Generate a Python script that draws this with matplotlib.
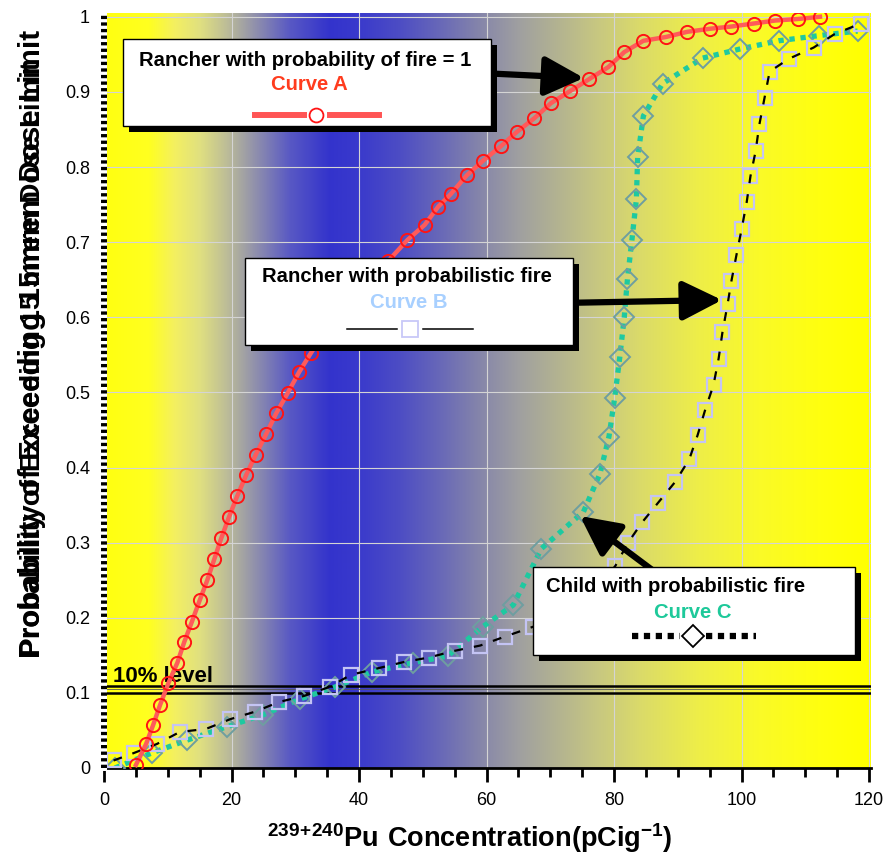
import numpy as np
import matplotlib.pyplot as plt
from matplotlib.patches import Rectangle
from matplotlib.lines import Line2D
from matplotlib.colors import to_rgb

plt.rcParams['font.family'] = ['Liberation Sans', 'DejaVu Sans']
plt.rcParams['mathtext.fontset'] = 'custom'
plt.rcParams['mathtext.rm'] = 'Liberation Sans'
plt.rcParams['mathtext.bf'] = 'Liberation Sans:bold'

# Curve A - rancher, probability of fire = 1
a_x = [5.0, 6.6, 7.7, 8.8, 10.1, 11.5, 12.6, 13.8, 15.0, 16.2, 17.3, 18.4, 19.6,
       20.9, 22.3, 23.8, 25.4, 27.0, 28.8, 30.6, 32.5, 34.6, 36.9, 39.4, 42.0,
       44.6, 47.6, 50.3, 52.4, 54.4, 56.9, 59.4, 62.3, 64.8, 67.5, 70.1, 73.1,
       76.1, 79.1, 81.6, 84.6, 88.1, 91.5, 95.0, 98.4, 101.9, 105.3, 108.8, 112.3]
a_y = [0.004, 0.032, 0.057, 0.084, 0.113, 0.14, 0.168, 0.195, 0.223, 0.25, 0.278,
       0.306, 0.334, 0.362, 0.39, 0.417, 0.444, 0.472, 0.499, 0.527, 0.553, 0.58,
       0.605, 0.63, 0.653, 0.675, 0.703, 0.723, 0.747, 0.764, 0.789, 0.808, 0.828,
       0.847, 0.865, 0.885, 0.901, 0.917, 0.933, 0.953, 0.968, 0.973, 0.98, 0.984,
       0.987, 0.991, 0.995, 0.997, 1.0]

# Curve B - rancher, probabilistic fire
b_x = [1.5, 4.7, 8.3, 11.9, 16.0, 19.8, 23.7, 27.5, 31.4, 35.4, 38.7, 43.1, 47.0,
       50.9, 55.0, 59.0, 62.9, 67.3, 71.7, 74.5, 77.4, 80.2, 82.2, 84.4, 86.9,
       89.6, 91.8, 93.1, 94.3, 95.6, 96.4, 97.0, 97.8, 98.4, 99.2, 100.0, 100.8,
       101.4, 102.2, 102.8, 103.6, 104.4, 107.4, 111.3, 114.6, 118.7]
b_y = [0.01, 0.02, 0.032, 0.048, 0.052, 0.065, 0.075, 0.088, 0.096, 0.108, 0.124,
       0.133, 0.141, 0.147, 0.156, 0.163, 0.175, 0.188, 0.204, 0.219, 0.24, 0.269,
       0.3, 0.327, 0.353, 0.381, 0.411, 0.443, 0.477, 0.51, 0.545, 0.58, 0.617,
       0.648, 0.683, 0.717, 0.753, 0.788, 0.821, 0.857, 0.892, 0.927, 0.944,
       0.959, 0.977, 0.991]

# Curve C - child, probabilistic fire
c_x = [1.7, 7.5, 13.0, 19.3, 25.0, 30.8, 36.3, 42.1, 48.4, 53.9, 59.4, 64.2, 68.6,
       75.2, 77.8, 79.2, 80.1, 80.9, 81.6, 82.1, 82.8, 83.5, 83.7, 84.6, 87.6,
       93.9, 99.7, 105.8, 112.2, 118.2]
c_y = [0.0, 0.02, 0.037, 0.055, 0.071, 0.092, 0.108, 0.128, 0.14, 0.149, 0.188,
       0.217, 0.292, 0.341, 0.392, 0.441, 0.493, 0.547, 0.6, 0.651, 0.703, 0.757,
       0.813, 0.868, 0.911, 0.945, 0.957, 0.968, 0.975, 0.981]

y_ticks = [0, 0.1, 0.2, 0.3, 0.4, 0.5, 0.6, 0.7, 0.8, 0.9, 1.0]
y_labels = ['0', '0.1', '0.2', '0.3', '0.4', '0.5', '0.6', '0.7', '0.8', '0.9', '1']
x_ticks = [0, 20, 40, 60, 80, 100, 120]

# background colour band (yellow -> blue -> yellow)
grad_x = [0, 7, 11, 15, 19.3, 24.5, 29.2, 35.4, 40, 46.4, 52.7, 58.9, 65.2, 71.5,
          77.7, 84, 93.4, 102.8, 112, 120.3]
grad_c = ['#ffff10', '#ffff20', '#f4f060', '#e0e080', '#bcbc98', '#8888b0', '#5858c4',
          '#3333cc', '#3a3acc', '#4d4dc4', '#6868b8', '#8585aa', '#a0a0a0', '#b4b490',
          '#c8c880', '#dada6a', '#eeee48', '#fafa28', '#ffff10', '#ffff00']

W, H = 891, 858
fig = plt.figure(figsize=(W / 100, H / 100), dpi=100)
ax = fig.add_axes([104 / W, (H - 768) / H, 767 / W, 755 / H])


def fx(px):
    return px / W


def fy(py):
    return 1 - py / H


xs = np.linspace(0, 120.3, 800)
rgb = np.array([to_rgb(c) for c in grad_c])
img = np.stack([np.interp(xs, grad_x, rgb[:, k]) for k in range(3)], axis=-1)[None, :, :]
ax.imshow(img, extent=[0, 120.3, 0, 1.005], aspect='auto', zorder=0, interpolation='bilinear')
ax.set_xlim(0, 120.3)
ax.set_ylim(0, 1.005)

ax.set_xticks(x_ticks)
ax.set_xticks(np.arange(0, 121, 5), minor=True)
ax.set_yticks(y_ticks)
ax.set_yticklabels(y_labels)
ax.grid(True, color='#d4d4d4', lw=0.8)
ax.tick_params(axis='x', which='major', length=10, width=2, direction='out', labelsize=13, pad=7)
ax.tick_params(axis='x', which='minor', length=6.5, width=2, direction='out')
ax.tick_params(axis='y', length=0, labelsize=13, pad=10)
for s in ['top', 'right', 'left']:
    ax.spines[s].set_visible(False)
ax.spines['bottom'].set_linewidth(2)

# checkered left axis
ax.plot([0, 0], [0, 1], transform=ax.transAxes, color='white', lw=4.3, clip_on=False, zorder=8)
ax.plot([0, 0], [0, 1], transform=ax.transAxes, color='black', lw=4.3, ls=(0, (0.55, 0.55)),
        clip_on=False, zorder=9, solid_capstyle='butt')

# 10% level
ax.axhline(0.0995, color='black', lw=1.8, zorder=2)
ax.axhline(0.1095, color='black', lw=1.8, zorder=2)
ax.axhline(0.1045, color='#555555', lw=0.6, zorder=2)
ax.text(1.4, 0.114, '10% level', fontsize=16, fontweight='bold', va='baseline', zorder=2)

# curves
ax.plot(c_x, c_y, color='#1ec9a0', lw=3.8, ls=(0, (1, 1.1)), zorder=3)
ax.plot(c_x, c_y, ls='none', marker='D', ms=10, mfc='none', mec='#6e9ea0', mew=1.4, zorder=3)
ax.plot(b_x, b_y, ls='none', marker='s', ms=9.5, mfc='none', mec='#c4c4f4', mew=1.6, zorder=4)
ax.plot(b_x, b_y, color='black', lw=1.6, ls=(0, (4, 5)), zorder=4)
ax.plot(a_x, a_y, color='#ff5a5a', lw=3.2, zorder=5)
ax.plot(a_x, a_y, ls='none', marker='o', ms=9.5, mfc='none', mec='#ff1414', mew=1.4, zorder=6)

# arrows
arrow_kw = dict(arrowstyle='-|>,head_length=0.6,head_width=0.3', mutation_scale=40,
                lw=4.5, color='black', shrinkA=0, shrinkB=0)
for tail, tip in [((480, 73), (584, 78)), ((560, 303), (722, 300)), ((655, 572), (580, 516))]:
    ax.annotate('', xy=(tip[0], H - tip[1]), xycoords='figure pixels',
                xytext=(tail[0], H - tail[1]), textcoords='figure pixels',
                arrowprops=arrow_kw, zorder=7)

# legend boxes
boxes = [(123, 39, 491, 126), (245, 258, 573, 345), (533, 567, 855, 655)]
for x0, y0, x1, y1 in boxes:
    fig.add_artist(Rectangle((fx(x0 + 6), fy(y1 + 6)), (x1 - x0) / W, (y1 - y0) / H,
                             transform=fig.transFigure, fc='black', ec='none', zorder=10))
    fig.add_artist(Rectangle((fx(x0), fy(y1)), (x1 - x0) / W, (y1 - y0) / H,
                             transform=fig.transFigure, fc='white', ec='black', lw=1, zorder=11))

tkw = dict(fontsize=14.6, fontweight='bold', ha='center', va='center', zorder=12)
fig.text(fx(305), fy(60), 'Rancher with probability of fire = 1', color='black', **tkw)
fig.text(fx(309), fy(84), 'Curve A', color='#ff3c1e', **tkw)
fig.text(fx(407), fy(277), 'Rancher with probabilistic fire', color='black', **tkw)
fig.text(fx(409), fy(302), 'Curve B', color='#a8d0ff', **tkw)
fig.text(fx(676), fy(587), 'Child with probabilistic fire', color='black', **tkw)
fig.text(fx(693), fy(612), 'Curve C', color='#1ec99a', **tkw)

# legend symbols
for a, b in [(255, 304), (330, 379)]:
    fig.add_artist(Line2D([fx(a), fx(b)], [fy(115)] * 2, color='#ff5555', lw=4.3,
                          transform=fig.transFigure, zorder=12))
fig.add_artist(Line2D([fx(316)], [fy(115)], marker='o', ms=10, mfc='white', mec='#ff1414',
                      mew=1.3, transform=fig.transFigure, zorder=13))
for a, b in [(347, 397), (423, 473)]:
    fig.add_artist(Line2D([fx(a), fx(b)], [fy(329)] * 2, color='black', lw=1.1,
                          transform=fig.transFigure, zorder=12))
fig.add_artist(Line2D([fx(410)], [fy(329)], marker='s', ms=11, mfc='white', mec='#c8c8f8',
                      mew=1.3, transform=fig.transFigure, zorder=13))
for a, b in [(632, 680), (706, 756)]:
    fig.add_artist(Line2D([fx(a), fx(b)], [fy(636)] * 2, color='black', lw=4.5,
                          ls=(0, (1, 0.9)), transform=fig.transFigure, zorder=12))
fig.add_artist(Line2D([fx(693)], [fy(636)], marker='D', ms=11, mfc='white', mec='black',
                      mew=1.3, transform=fig.transFigure, zorder=13))

# axis labels
fig.text(fx(470), fy(838), r'$\mathbf{{}^{239\!+\!240}Pu\ Concentration(pCig^{-1})}$',
         fontsize=19.5, ha='center', va='center')
fig.text(fx(32), fy(658), 'Probability of Exceeding 15mrem Dose Limit', fontsize=21.3,
         fontweight='bold', rotation=90, ha='center', va='bottom')
fig.text(fx(33), fy(656), 'Probability of Exceeding 15 mrem Dose Limit', fontsize=20,
         fontweight='bold', rotation=90, ha='center', va='bottom')

fig.savefig('out.png', dpi=100)
